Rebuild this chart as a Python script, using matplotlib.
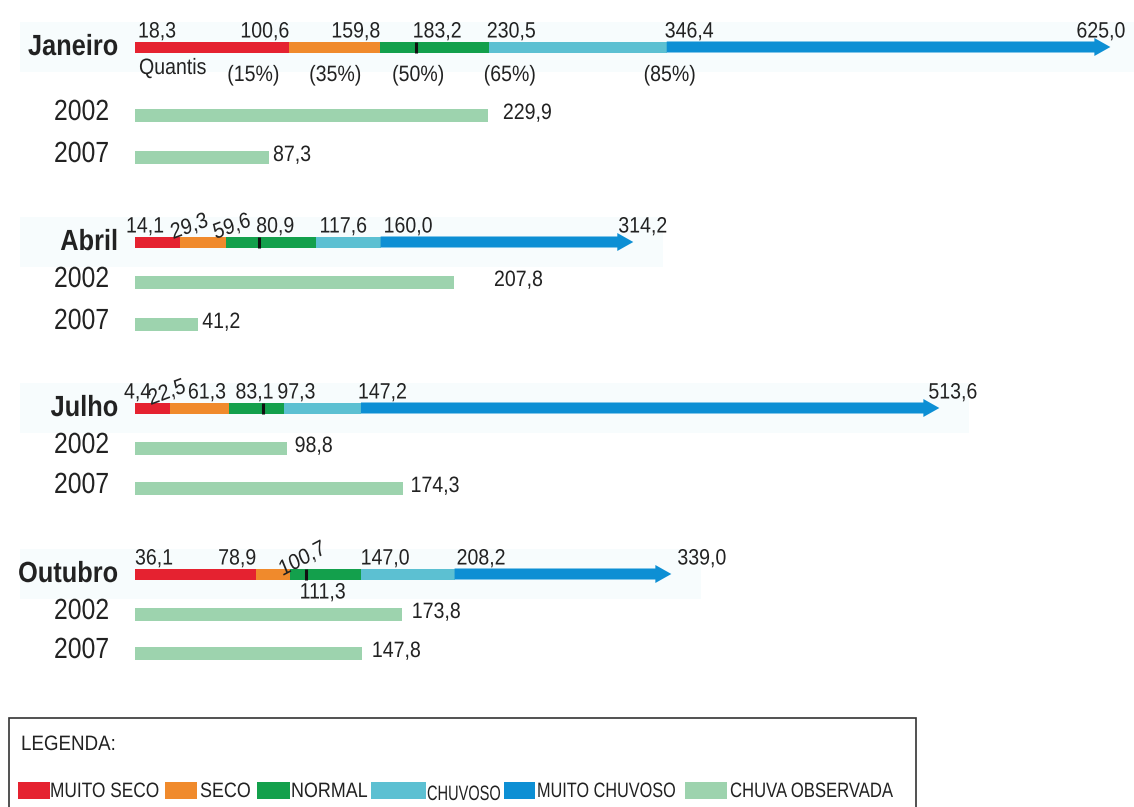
import matplotlib
matplotlib.use("Agg")
import matplotlib.pyplot as plt
from matplotlib.patches import Rectangle
from matplotlib.patheffects import AbstractPathEffect
from matplotlib.transforms import Affine2D

plt.rcParams['font.family'] = ['Liberation Sans', 'DejaVu Sans']

# dados (mm)
meses = ['Janeiro', 'Abril', 'Julho', 'Outubro']
q_min = [18.3, 14.1, 4.4, 36.1]
q15 = [100.6, 29.3, 22.5, 78.9]
q35 = [159.8, 59.6, 61.3, 100.7]
q50 = [183.2, 80.9, 83.1, 111.3]
q65 = [230.5, 117.6, 97.3, 147.0]
q85 = [346.4, 160.0, 147.2, 208.2]
q_max = [625.0, 314.2, 513.6, 339.0]
anos = ['2002', '2007']
obs_2002 = [229.9, 207.8, 98.8, 173.8]
obs_2007 = [87.3, 41.2, 174.3, 147.8]
quantis_txt = ['Quantis', '(15%)', '(35%)', '(50%)', '(65%)', '(85%)']
legenda_txt = ['MUITO SECO', 'SECO', 'NORMAL', 'CHUVOSO', 'MUITO CHUVOSO', 'CHUVA OBSERVADA']

# cores
c_mseco = '#e52230'
c_seco = '#f08a2c'
c_normal = '#13a04c'
c_chuv = '#5cc0d2'
c_mchuv = '#0d8fd4'
c_obs = '#9dd3ae'
c_txt = '#222222'
cores_leg = [c_mseco, c_seco, c_normal, c_chuv, c_mchuv, c_obs]

# layout (pixels)
W, H = 1134, 807
PX = 1.535      # pixels por mm
X0 = 135        # pixel do zero
linha_q = [47, 242, 408, 574]
linha_2002 = [115, 282, 448, 614]
linha_2007 = [157, 324, 488, 653]
h_q = 11
h_obs = 13

# (dx em px, alinhamento, rotacao) para min,15,35,50,65,85,max
estilo = [
    [(3, 'left', 0), (0, 'right', 0), (0, 'right', 0), (21, 'center', 0), (-2, 'left', 0), (-2, 'left', 0), (31, 'right', 0)],
    [(-9, 'left', 0), (11, 'center', 18), (7, 'center', 18), (16, 'center', 0), (4, 'left', 0), (3, 'left', 0), (1, 'left', 0)],
    [(-11, 'left', 0), (-1, 'center', 18), (-3, 'right', 0), (-8, 'center', 0), (-7, 'left', 0), (-3, 'left', 0), (5, 'left', 0)],
    [(0, 'left', 0), (0, 'right', 0), (15, 'center', 25), (17, 'center', 0), (0, 'left', 0), (2, 'left', 0), (22, 'left', 0)],
]
dx_obs_2002 = [15, 40, 8, 10]
dx_obs_2007 = [4, 4, 8, 10]
dx_quantis = [4, -36, -45, 2, 21, 3]

# legenda: posicoes em px (caixa, quadrados, textos)
leg_caixa = (9, 718, 916, 820)
leg_quad_x = [18, 165, 257, 371, 504, 685]
leg_quad_w = [32, 32, 33, 55, 31, 42]
leg_txt_x = [50, 200, 291, 427, 537, 730]
leg_esc = [0.83, 0.86, 0.86, 0.7, 0.78, 0.8]


class Estreita(AbstractPathEffect):
    """desenha o texto comprimido na horizontal (fonte 'narrow')"""

    def __init__(self, texto, s):
        super().__init__()
        self.texto = texto
        self.s = s

    def draw_path(self, renderer, gc, tpath, affine, rgbFace=None):
        x0 = self.texto.get_transform().transform(self.texto.get_position())[0]
        aff = affine + Affine2D().translate(-x0, 0).scale(self.s, 1).translate(x0, 0)
        renderer.draw_path(gc, tpath, aff, rgbFace)


def texto(x, y, s, esc=0.88, **kw):
    t = ax.text(x, y, s, color=c_txt, **kw)
    t.set_path_effects([Estreita(t, esc)])
    return t


def fmt(v):
    return f'{v:.1f}'.replace('.', ',')


def px2x(p):
    return (p - X0) / PX


fig = plt.figure(figsize=(W / 100, H / 100), dpi=100)
ax = fig.add_axes([0, 0, 1, 1])
ax.set_xlim(px2x(0), px2x(W))
ax.set_ylim(H, 0)
ax.axis('off')

for i, mes in enumerate(meses):
    y = linha_q[i]
    # faixa clara de fundo
    ax.barh(y, q_max[i] - px2x(20) + 30, left=px2x(20), height=50, color='#f7fcfd', zorder=0)

    # segmentos dos quantis
    ax.barh(y, q15[i], left=0, height=h_q, color=c_mseco, lw=0, zorder=2)
    ax.barh(y, q35[i] - q15[i], left=q15[i], height=h_q, color=c_seco, lw=0, zorder=2)
    ax.barh(y, q65[i] - q35[i], left=q35[i], height=h_q, color=c_normal, lw=0, zorder=2)
    ax.barh(y, q85[i] - q65[i], left=q65[i], height=h_q, color=c_chuv, lw=0, zorder=2)
    ax.arrow(q85[i], y, q_max[i] - q85[i], 0, width=h_q, head_width=18, head_length=16 / PX,
             length_includes_head=False, color=c_mchuv, lw=0, zorder=2)
    # mediana
    ax.plot([q50[i], q50[i]], [y - h_q / 2, y + h_q / 2], color='#111111', lw=2.2, zorder=3,
            solid_capstyle='butt')

    # valores dos quantis
    valores = [q_min[i], q15[i], q35[i], q50[i], q65[i], q85[i], q_max[i]]
    for k, v in enumerate(valores):
        dx, ha, rot = estilo[i][k]
        xa = 0 if k == 0 else v
        if mes == 'Outubro' and k == 3:
            texto(xa + dx / PX, y + h_q / 2 + 3, fmt(v), ha=ha, va='top', fontsize=16)
            continue
        texto(xa + dx / PX, y - h_q / 2 - 4, fmt(v), ha=ha, va='baseline', fontsize=16,
              rotation=rot, rotation_mode='anchor')

    # nome do mes
    texto(px2x(118), y + 8, mes, esc=0.87, ha='right', va='baseline', fontsize=21, fontweight='bold')

    # chuva observada
    for obs, linha, dxs, ano in [(obs_2002, linha_2002, dx_obs_2002, anos[0]),
                                 (obs_2007, linha_2007, dx_obs_2007, anos[1])]:
        yy = linha[i]
        ax.barh(yy, obs[i], left=0, height=h_obs, color=c_obs, lw=0, zorder=2)
        texto(obs[i] + dxs[i] / PX, yy + 4, fmt(obs[i]), ha='left', va='baseline', fontsize=16)
        texto(px2x(109), yy + 5, ano, esc=0.85, ha='right', va='baseline', fontsize=21)

# linha "Quantis" de Janeiro
ancoras = [0, q15[0], q35[0], q50[0], q65[0], q85[0]]
for k, t in enumerate(quantis_txt):
    texto(ancoras[k] + dx_quantis[k] / PX, linha_q[0] + (27 if k == 0 else 34), t,
          ha='left' if k == 0 else 'center', va='baseline', fontsize=16)

# legenda
x1, y1, x2, y2 = leg_caixa
ax.add_patch(Rectangle((px2x(x1), y1), px2x(x2) - px2x(x1), y2 - y1, facecolor='white',
                       edgecolor='#333333', lw=1.2, zorder=4))
texto(px2x(21), 750, 'LEGENDA:', esc=0.9, ha='left', va='baseline', fontsize=15, zorder=5)
for k, nome in enumerate(legenda_txt):
    ax.add_patch(Rectangle((px2x(leg_quad_x[k]), 782), leg_quad_w[k] / PX, 17,
                           facecolor=cores_leg[k], lw=0, zorder=5))
    texto(px2x(leg_txt_x[k]), 797 if nome != 'CHUVOSO' else 800, nome, esc=leg_esc[k],
          ha='left', va='baseline', fontsize=15, zorder=5)

fig.savefig('out.png', dpi=100)
